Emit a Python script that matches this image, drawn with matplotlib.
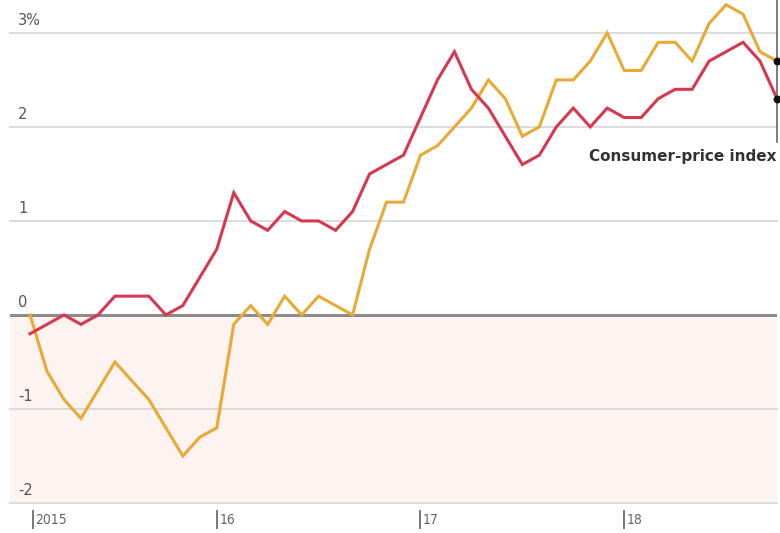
import matplotlib.pyplot as plt
import numpy as np

# monthly, Feb 2015 to Oct 2018, % change on a year earlier
cpi = [-0.2, -0.1, 0.0, -0.1, 0.0, 0.2, 0.2, 0.2, 0.0, 0.1, 0.4, 0.7,
       1.3, 1.0, 0.9, 1.1, 1.0, 1.0, 0.9, 1.1, 1.5, 1.6, 1.7, 2.1,
       2.5, 2.8, 2.4, 2.2, 1.9, 1.6, 1.7, 2.0, 2.2, 2.0, 2.2, 2.1,
       2.1, 2.3, 2.4, 2.4, 2.7, 2.8, 2.9, 2.7, 2.3]
ppi = [0.0, -0.6, -0.9, -1.1, -0.8, -0.5, -0.7, -0.9, -1.2, -1.5, -1.3, -1.2,
       -0.1, 0.1, -0.1, 0.2, 0.0, 0.2, 0.1, 0.0, 0.7, 1.2, 1.2, 1.7,
       1.8, 2.0, 2.2, 2.5, 2.3, 1.9, 2.0, 2.5, 2.5, 2.7, 3.0, 2.6,
       2.6, 2.9, 2.9, 2.7, 3.1, 3.3, 3.2, 2.8, 2.7]
y_ticks = [3, 2, 1, 0, -1, -2]
y_labels = ['3%', '2', '1', '0', '-1', '-2']
x_tick_pos = [0.15, 11, 23, 35]
x_tick_labels = ['2015', '16', '17', '18']
cpi_label = 'Consumer-price index'

red = '#d8384f'
yellow = '#e9a935'

fig = plt.figure(figsize=(7.8, 5.33), dpi=100)
ax = fig.add_axes([10 / 780, 30 / 533, 767 / 780, 503 / 533])
ax.set_xlim(-1.18, 44.0)
ax.set_ylim(-2, 3.35)
ax.axis('off')

months = np.arange(len(cpi))

# shaded negative zone and grid
ax.axhspan(-2, 0, color='#fdf3f0', zorder=0, lw=0)
for v, lab in zip(y_ticks, y_labels):
    if v == 0:
        ax.axhline(v, color='#8c8c8c', lw=2.2, zorder=1)
    else:
        ax.axhline(v, color='#d9d9d9', lw=1.3, zorder=1, clip_on=False)
    ax.text(-0.7, v + 0.05, lab, fontsize=10.5,
            color='#555555', ha='left', va='bottom', zorder=2)

ax.plot(months, ppi, color=yellow, lw=2.2, zorder=3, solid_joinstyle='miter')
ax.plot(months, cpi, color=red, lw=2.2, zorder=4, solid_joinstyle='miter')

# end markers and label
end = months[-1] + 0.0
ax.plot([end, end], [1.84, 3.35], color='#666666', lw=1.2, zorder=5, clip_on=False)
ax.scatter([end, end], [ppi[-1], cpi[-1]], color='#111111', s=22, zorder=6, clip_on=False)
ax.text(end, 1.77, cpi_label, fontsize=11, fontweight='bold', color='#333333',
        ha='right', va='top')

# x ticks below the axis
for pos, lab in zip(x_tick_pos, x_tick_labels):
    ax.plot([pos, pos], [-2.08, -2.27], color='#777777', lw=1.4, clip_on=False)
    ax.text(pos + 0.15, -2.18, lab, fontsize=10, color='#666666',
            ha='left', va='center', fontstretch='condensed')

fig.savefig('out.png', dpi=100)
